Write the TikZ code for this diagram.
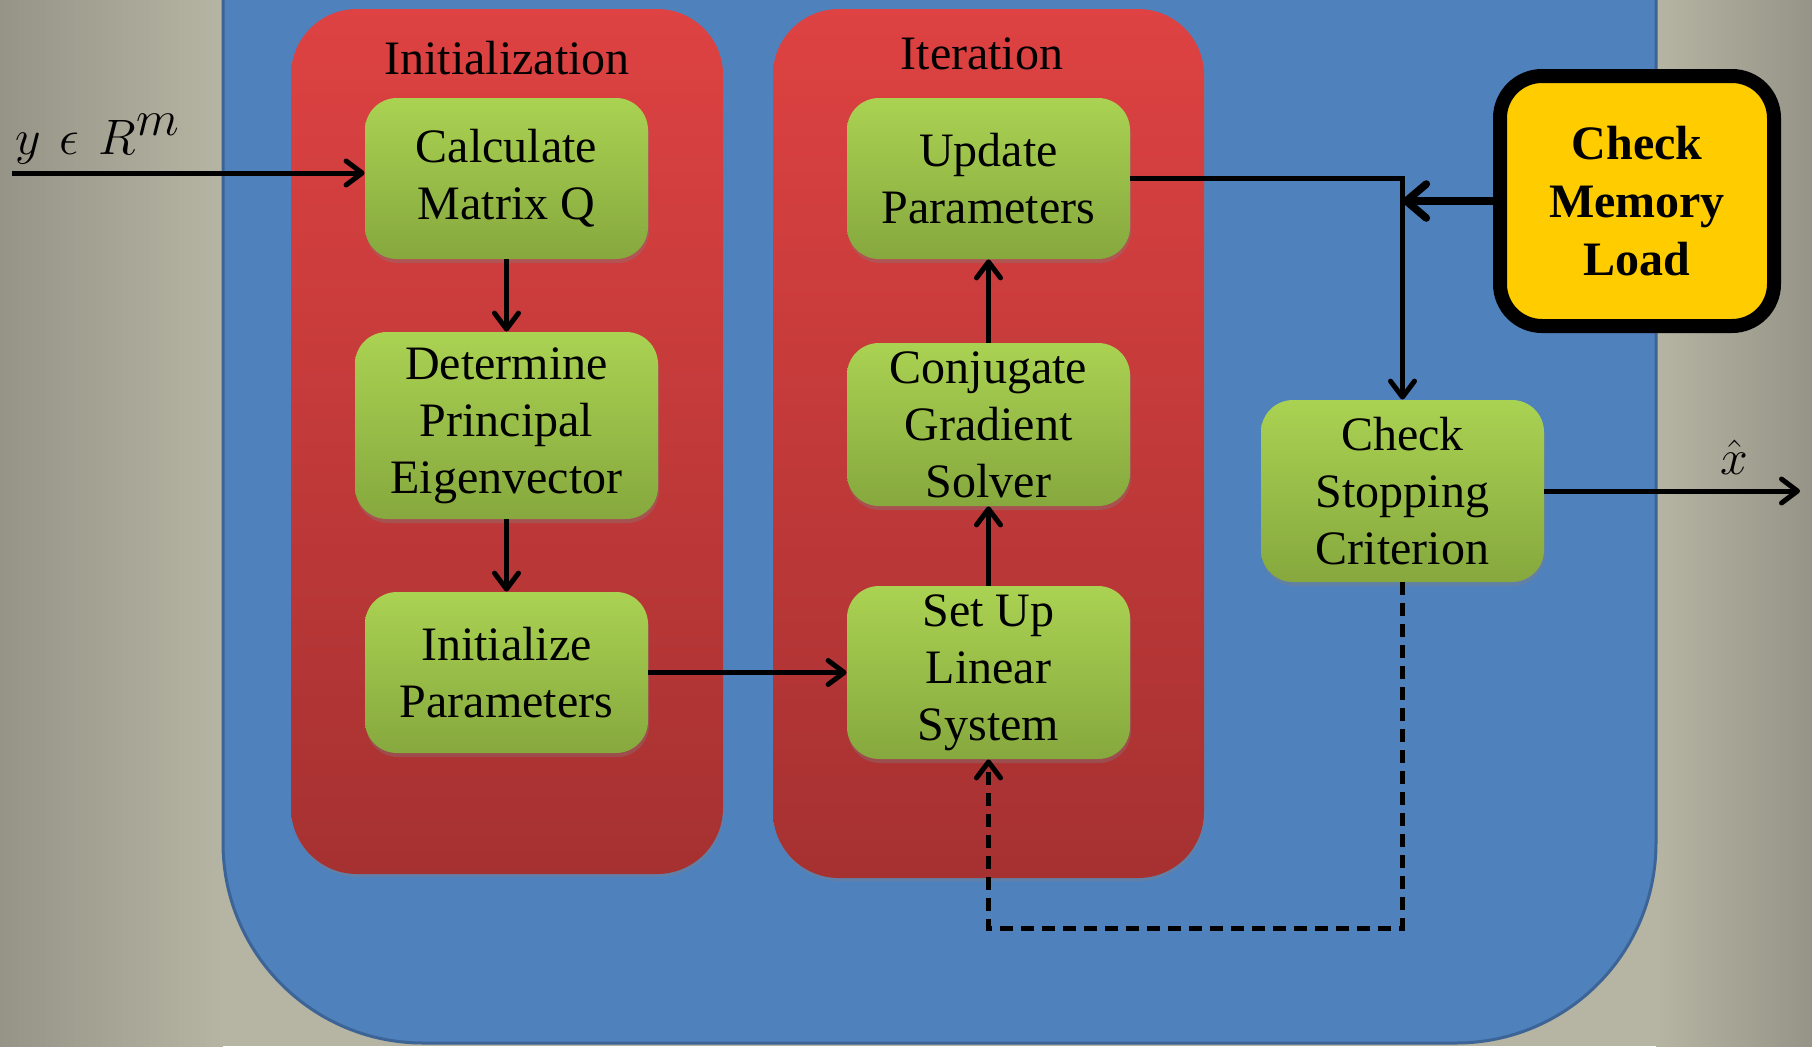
\documentclass[tikz,border=0pt]{standalone}
\usepackage{fontspec}
\setmainfont{Liberation Serif}
\usetikzlibrary{arrows.meta,shadows}
\definecolor{bgd}{RGB}{150,148,135}
\definecolor{bgl}{RGB}{182,180,162}
\definecolor{bluebg}{RGB}{79,129,189}
\definecolor{blueedge}{RGB}{60,100,150}
\definecolor{redtop}{RGB}{222,66,66}
\definecolor{redbot}{RGB}{166,49,49}
\definecolor{grtop}{RGB}{170,210,82}
\definecolor{grbot}{RGB}{134,168,62}
\definecolor{memyel}{RGB}{255,204,0}
\begin{document}
\begin{tikzpicture}[x=0.5pt,y=-0.5pt,
  container/.style={rounded corners=33pt, top color=redtop, bottom color=redbot,
    inner sep=0pt, drop shadow={shadow xshift=0.5pt,shadow yshift=-1.5pt,opacity=0.35}},
  greenbox/.style={rounded corners=16pt, top color=grtop, bottom color=grbot,
    minimum width=141.5pt, minimum height=80.5pt, align=center, inner sep=0pt,
    font=\fontsize{24}{28.5}\selectfont,
    drop shadow={shadow xshift=0.5pt,shadow yshift=-2pt,opacity=0.35}},
  title/.style={font=\fontsize{24}{28.5}\selectfont, inner sep=0pt},
  arr/.style={-{Straight Barb[length=8pt,width=12pt,round]}, line width=2.5pt},
  bigarr/.style={-{Straight Barb[length=10pt,width=17pt,round]}, line width=3.8pt},
  dasharr/.style={arr, dash pattern=on 6.5pt off 4pt},
  mathlab/.style={font=\fontsize{38}{42}\selectfont, inner sep=0pt}
]
\useasboundingbox (0,0) rectangle (1812,1046);
\clip (0,0) rectangle (1812,1046);
% background
\fill[bgl] (0,0) rectangle (1812,1046);
\shade[left color=bgd, right color=bgl] (0,0) rectangle (223,1046);
\shade[left color=bgl, right color=bgd] (1656,0) rectangle (1812,1046);
% blue panel
\draw[fill=bluebg, draw=blueedge, line width=1.5pt, rounded corners=100pt]
  (223,-400) rectangle (1656,1043);
% containers
\node[container, minimum width=216pt, minimum height=432.5pt] (initC) at (507,441.5) {};
\node[container, minimum width=215.5pt, minimum height=434.5pt] (iterC) at (988.5,443.5) {};
\node[title] (initT) at (507,58) {Initialization};
\node[title] (iterT) at (982,54) {Iteration};
% green boxes
\node[greenbox] (calc) at (506.5,178.5) {Calculate\\Matrix Q};
\node[greenbox, minimum width=151.5pt, minimum height=93.5pt] (det) at (506.5,425.5) {Determine\\Principal\\Eigenvector};
\node[greenbox] (init) at (506.5,672.5) {Initialize\\Parameters};
\node[greenbox] (upd) at (988.5,178.5) {Update\\Parameters};
\node[greenbox, minimum height=81.5pt] (cg) at (988.5,424.5) {Conjugate\\Gradient\\Solver};
\node[greenbox, minimum height=86.5pt] (setup) at (988.5,672.5) {Set Up\\Linear\\System};
\node[greenbox, minimum height=91pt] (stop) at (1402.5,491) {Check\\Stopping\\Criterion};
% memory box
\node[draw=black, line width=7pt, fill=memyel, rounded corners=21pt,
  minimum width=137pt, minimum height=125pt, align=center, inner sep=0pt,
  font=\bfseries\fontsize{24}{29}\selectfont,
  drop shadow={shadow xshift=1pt,shadow yshift=-2pt,opacity=0.4}] (mem) at (1637,201) {Check\\Memory\\Load};
% labels
\node[mathlab, anchor=base west] (ylab) at (15,154) {$y\ \epsilon\ R^m$};
\node[mathlab, anchor=base] (xhat) at (1734,474) {$\hat{x}$};
% connectors
\coordinate (yin) at (12,173);
\coordinate (xout) at (1800,491);
\coordinate (dc) at (0,928);
\draw[arr] (yin) -- (yin -| calc.west);
\draw[arr] (calc) -- (det);
\draw[arr] (det) -- (init);
\draw[arr] (init.east) -- (setup.west);
\draw[arr] (setup) -- (cg);
\draw[arr] (cg) -- (upd);
\draw[arr] (upd.east) -| (stop.north);
\draw[bigarr] (mem.west) -- (mem.west -| stop.north);
\draw[arr] (stop.east) -- (xout);
\draw[dasharr] (stop.south) -- (stop.south |- dc) -- (setup.south |- dc) -- (setup.south);
\end{tikzpicture}
\end{document}
